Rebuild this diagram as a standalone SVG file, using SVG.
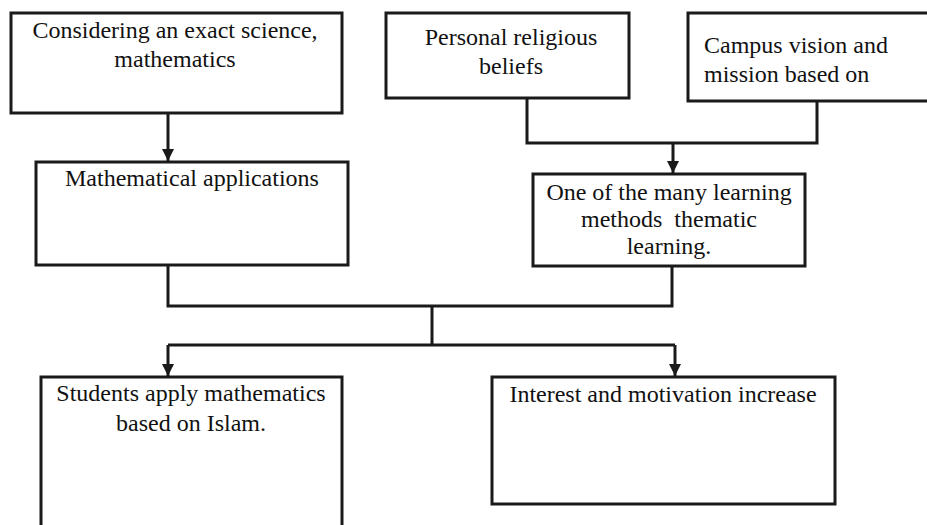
<svg xmlns="http://www.w3.org/2000/svg" width="927" height="525" viewBox="0 0 927 525">
  <style>
    .box { fill: #ffffff; stroke: #1a1a1a; stroke-width: 3; }
    .wire { fill: none; stroke: #1a1a1a; stroke-width: 3; stroke-linejoin: miter; }
    .lbl { font-family: "Liberation Serif", "Times New Roman", serif; font-size: 24px; fill: #111111; }
    .mid { text-anchor: middle; }
  </style>
  <defs>
    <marker id="arrow" markerUnits="userSpaceOnUse" markerWidth="14" markerHeight="12" refX="12" refY="6" orient="auto">
      <path d="M0,0 L12,6 L0,12 Z" fill="#1a1a1a"/>
    </marker>
  </defs>

  <rect width="927" height="525" fill="#ffffff"/>

  <!-- connectors -->
  <g id="connectors">
    <path class="wire" d="M168,113 V161" marker-end="url(#arrow)"/>
    <path class="wire" d="M527,98 V143 H817 V101"/>
    <path class="wire" d="M673,143 V173" marker-end="url(#arrow)"/>
    <path class="wire" d="M168,265 V306 H672 V266"/>
    <path class="wire" d="M432,306 V345"/>
    <path class="wire" d="M168,345 H675"/>
    <path class="wire" d="M168,345 V376" marker-end="url(#arrow)"/>
    <path class="wire" d="M675,345 V376" marker-end="url(#arrow)"/>
  </g>

  <g id="exact-science">
    <rect class="box" x="11" y="13" width="331" height="100"/>
    <text class="lbl mid" x="175" y="38">Considering an exact science,</text>
    <text class="lbl mid" x="175" y="67">mathematics</text>
  </g>

  <g id="religious-beliefs">
    <rect class="box" x="386" y="13" width="243" height="85"/>
    <text class="lbl mid" x="511" y="45">Personal religious</text>
    <text class="lbl mid" x="511" y="74">beliefs</text>
  </g>

  <g id="campus-vision">
    <rect class="box" x="688" y="13" width="260" height="88"/>
    <text class="lbl" x="704" y="53">Campus vision and</text>
    <text class="lbl" x="704" y="82">mission based on</text>
  </g>

  <g id="applications">
    <rect class="box" x="36" y="162" width="312" height="103"/>
    <text class="lbl mid" x="192" y="186">Mathematical applications</text>
  </g>

  <g id="thematic-learning">
    <rect class="box" x="533" y="174" width="272" height="92"/>
    <text class="lbl mid" x="669" y="200">One of the many learning</text>
    <text class="lbl mid" x="669" y="227" xml:space="preserve">methods  thematic</text>
    <text class="lbl mid" x="669" y="254">learning.</text>
  </g>

  <g id="students-apply">
    <rect class="box" x="41" y="377" width="301" height="170"/>
    <text class="lbl mid" x="191" y="401">Students apply mathematics</text>
    <text class="lbl mid" x="191" y="431">based on Islam.</text>
  </g>

  <g id="interest-motivation">
    <rect class="box" x="492" y="377" width="343" height="127"/>
    <text class="lbl mid" x="663" y="402">Interest and motivation increase</text>
  </g>
</svg>
